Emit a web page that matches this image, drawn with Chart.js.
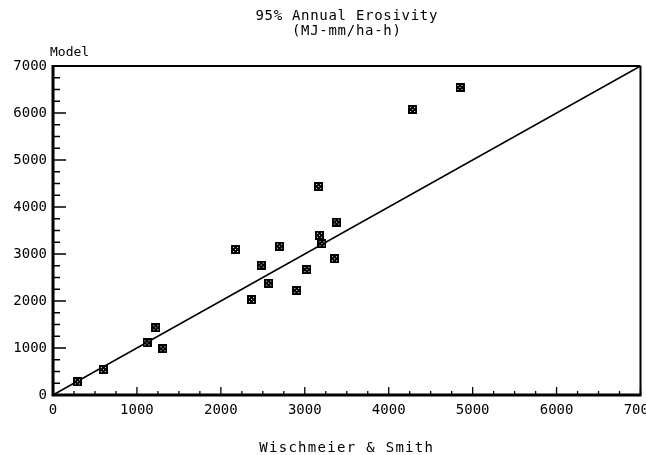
<!DOCTYPE html>
<html>
<head>
<meta charset="utf-8">
<script src="https://cdn.jsdelivr.net/npm/chart.js@4/dist/chart.umd.min.js"></script>
<style>
  html, body { margin: 0; padding: 0; background: #fff; }
  #wrap { width: 646px; height: 455px; position: relative; }
</style>
</head>
<body>
<div id="wrap"><canvas id="c" width="646" height="455"></canvas></div>
<script>
// ---- data ----
const wischmeierSmith = [290, 600, 1120, 1225, 1310, 2175, 2365, 2480, 2570, 2700, 2905, 3025, 3165, 3175, 3205, 3355, 3380, 4285, 4850];
const modelValues     = [280, 540, 1110, 1430, 985, 3095, 2030, 2765, 2380, 3165, 2225, 2670, 4435, 3400, 3220, 2900, 3680, 6075, 6545];
const oneToOneX = [0, 7000];
const oneToOneY = [0, 7000];
const axisMin = 0, axisMax = 7000, majorStep = 1000, minorStep = 250;
const titleLines = ['95% Annual Erosivity', '(MJ-mm/ha-h)'];
const yAxisLabel = 'Model';
const xAxisLabel = 'Wischmeier & Smith';

const FONT = '"DejaVu Sans Mono", monospace';

// marker: black square with small white dots
function makeMarker() {
  const m = document.createElement('canvas');
  m.width = 9; m.height = 9;
  const g = m.getContext('2d');
  g.fillStyle = '#000';
  g.fillRect(0, 0, 9, 9);
  g.fillStyle = '#fff';
  [[2,2],[6,2],[4,4],[2,6],[6,6]].forEach(p => g.fillRect(p[0], p[1], 1, 1));
  return m;
}
const marker = makeMarker();

const points = wischmeierSmith.map((x, i) => ({ x: x, y: modelValues[i] }));
const linePts = oneToOneX.map((x, i) => ({ x: x, y: oneToOneY[i] }));

const decorPlugin = {
  id: 'decor',
  afterDraw(chart) {
    const ctx = chart.ctx;
    const xs = chart.scales.x, ys = chart.scales.y;
    const a = chart.chartArea;
    ctx.save();
    ctx.strokeStyle = '#000';
    // frame
    ctx.lineWidth = 2;
    ctx.beginPath();
    ctx.moveTo(a.left, a.top); ctx.lineTo(a.right, a.top);
    ctx.moveTo(a.right, a.top); ctx.lineTo(a.right, a.bottom);
    ctx.stroke();
    ctx.lineWidth = 3;
    ctx.beginPath();
    ctx.moveTo(a.left, a.top - 1); ctx.lineTo(a.left, a.bottom);
    ctx.lineTo(a.right + 1, a.bottom);
    ctx.stroke();
    // inward ticks
    ctx.lineWidth = 1.3;
    ctx.beginPath();
    for (let v = axisMin; v <= axisMax; v += minorStep) {
      const major = v % majorStep === 0;
      const px = xs.getPixelForValue(v);
      ctx.moveTo(px, a.bottom); ctx.lineTo(px, a.bottom - (major ? 8 : 4));
      const py = ys.getPixelForValue(v);
      ctx.moveTo(a.left, py); ctx.lineTo(a.left + (major ? 13 : 7), py);
    }
    ctx.stroke();
    // texts
    ctx.fillStyle = '#000';
    ctx.textAlign = 'center';
    ctx.textBaseline = 'middle';
    const cx = (a.left + a.right) / 2;
    ctx.font = '14px ' + FONT;
    ctx.letterSpacing = '0.7px';
    ctx.fillText(titleLines[0], cx, 16);
    ctx.fillText(titleLines[1], cx, 31);
    ctx.letterSpacing = '1.3px';
    ctx.fillText(xAxisLabel, cx, 448);
    ctx.letterSpacing = '0px';
    ctx.textAlign = 'left';
    ctx.font = '13px ' + FONT;
    ctx.fillText(yAxisLabel, 50, 53);
    ctx.restore();
  }
};

new Chart(document.getElementById('c'), {
  type: 'scatter',
  data: {
    datasets: [
      {
        type: 'line',
        data: linePts,
        borderColor: '#000',
        borderWidth: 1.6,
        pointRadius: 0,
        fill: false,
        order: 2
      },
      {
        data: points,
        pointStyle: marker,
        pointRadius: 4.5,
        order: 1
      }
    ]
  },
  options: {
    responsive: false,
    animation: false,
    devicePixelRatio: 1,
    layout: { padding: { top: 66, right: 4, left: 0, bottom: 0 } },
    plugins: { legend: { display: false }, tooltip: { enabled: false }, title: { display: false } },
    scales: {
      x: {
        type: 'linear', min: axisMin, max: axisMax,
        grid: { display: false, drawTicks: false },
        border: { display: false },
        ticks: { stepSize: majorStep, padding: 7, color: '#000', font: { family: FONT, size: 14 }, maxRotation: 0, autoSkip: false, format: { useGrouping: false } },
        afterFit(s) { s.height = 60; s.paddingLeft = 0; s.paddingRight = 0; }
      },
      y: {
        type: 'linear', min: axisMin, max: axisMax,
        grid: { display: false, drawTicks: false },
        border: { display: false },
        ticks: { stepSize: majorStep, padding: 6, color: '#000', font: { family: FONT, size: 14 }, format: { useGrouping: false } },
        afterFit(s) { s.width = 53; s.paddingTop = 0; s.paddingBottom = 0; }
      }
    }
  },
  plugins: [decorPlugin]
});
</script>
</body>
</html>
